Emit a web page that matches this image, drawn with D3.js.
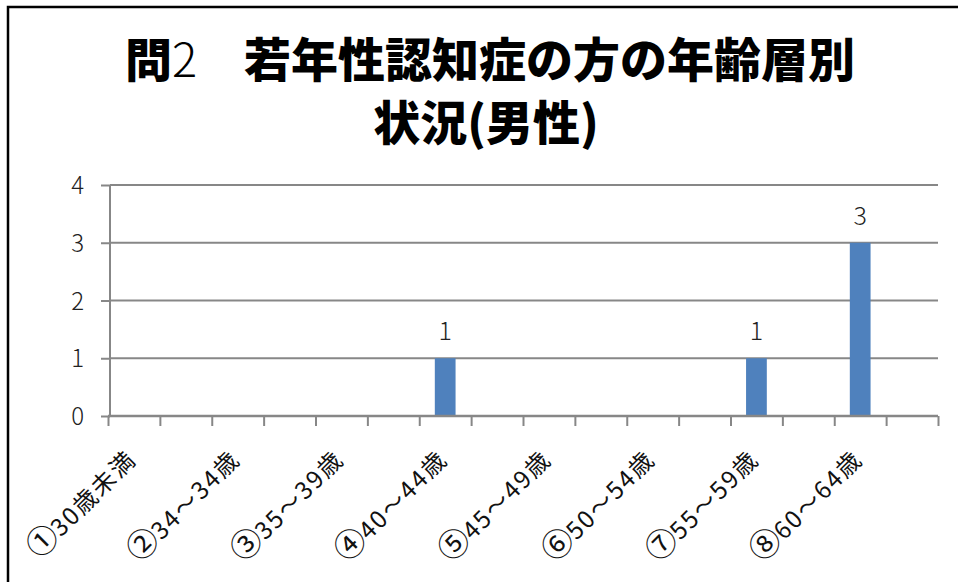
<!DOCTYPE html>
<html lang="ja">
<head>
<meta charset="utf-8">
<script src="https://cdn.jsdelivr.net/npm/d3@7"></script>
<style>
  html, body { margin: 0; padding: 0; background: #fff; }
  svg { display: block; }
</style>
</head>
<body>
<svg id="chart" width="958" height="582"></svg>
<script>
// Age bands (blank entries are the spacer rows between the labelled bands)
const categories = [
  "①30歳未満", "", "②34～34歳", "", "③35～39歳", "", "④40～44歳", "",
  "⑤45～49歳", "", "⑥50～54歳", "", "⑦55～59歳", "", "⑧60～64歳", ""
];
// Number of men in each band (null = no entry)
const values = [null, null, null, null, null, null, 1, null,
                null, null, null, null, 1, null, 3, null];
const yTicks = [0, 1, 2, 3, 4];
const titleLines = [
  [{ t: "問", w: 900 }, { t: "2", w: 300 }, { t: "\u3000若年性認知症の方の年齢層別", w: 900 }],
  [{ t: "状況(男性)", w: 900 }]
];

const svg = d3.select("#chart");
const font = "'Noto Sans CJK JP', 'Noto Sans', sans-serif";

const plot = { left: 110, right: 938, top: 185, bottom: 416 };
const axisStart = 108;

// Outer frame
svg.append("rect")
  .attr("x", 8).attr("y", 7)
  .attr("width", 1000).attr("height", 1000)
  .attr("fill", "none").attr("stroke", "#000").attr("stroke-width", 2.5);

// Title
const title = svg.append("g").attr("font-family", font).attr("fill", "#000");
const titleY = [77, 140];
titleLines.forEach((parts, i) => {
  const t = title.append("text")
    .attr("x", i === 0 ? 490 : 486).attr("y", titleY[i])
    .attr("text-anchor", "middle")
    .attr("font-size", 47);
  parts.forEach(p => t.append("tspan").attr("font-weight", p.w).text(p.t));
});

// Scales
const x = d3.scaleBand()
  .domain(d3.range(categories.length))
  .range([axisStart, plot.right])
  .paddingInner(0.6)
  .paddingOuter(0.3);
const xEdges = d3.scaleLinear()
  .domain([0, categories.length])
  .range([axisStart, plot.right]);
const y = d3.scaleLinear().domain([0, 4]).range([plot.bottom, plot.top]);

const grey = "#878787";

// Horizontal gridlines + y ticks
const yAxis = svg.append("g")
  .attr("transform", `translate(${plot.left},0)`)
  .call(d3.axisLeft(y).tickValues(yTicks).tickSize(9).tickPadding(17).tickFormat(d3.format("d")));
yAxis.select(".domain").remove();
yAxis.selectAll(".tick line").attr("stroke", grey).attr("stroke-width", 2);
yAxis.selectAll(".tick text")
  .attr("font-family", font).attr("font-size", 24).attr("font-weight", 300)
  .attr("fill", "#222").attr("dy", "0.36em");

svg.append("g")
  .selectAll("line")
  .data(yTicks)
  .join("line")
  .attr("x1", plot.left).attr("x2", plot.right)
  .attr("y1", d => y(d)).attr("y2", d => y(d))
  .attr("stroke", grey).attr("stroke-width", 2);

// Vertical axis line
svg.append("line")
  .attr("x1", plot.left).attr("x2", plot.left)
  .attr("y1", plot.top).attr("y2", plot.bottom)
  .attr("stroke", grey).attr("stroke-width", 2);

// Bars
svg.append("g")
  .selectAll("rect")
  .data(values.map((v, i) => ({ i, v })).filter(d => d.v != null))
  .join("rect")
  .attr("x", d => x(d.i))
  .attr("width", x.bandwidth())
  .attr("y", d => y(d.v))
  .attr("height", d => y(0) - y(d.v))
  .attr("fill", "#4f81bd");

// Value labels
svg.append("g")
  .selectAll("text")
  .data(values.map((v, i) => ({ i, v })).filter(d => d.v != null && d.v > 0))
  .join("text")
  .attr("x", d => x(d.i) + x.bandwidth() / 2)
  .attr("y", d => y(d.v) - 18)
  .attr("text-anchor", "middle")
  .attr("font-family", font).attr("font-size", 25).attr("font-weight", 300)
  .attr("fill", "#222")
  .text(d => d.v);

// Category axis with boundary ticks
const xAxis = svg.append("g")
  .attr("transform", `translate(0,${plot.bottom})`)
  .call(d3.axisBottom(xEdges).tickValues(d3.range(categories.length + 1)).tickSize(10).tickFormat(""));
xAxis.select(".domain").attr("stroke", grey).attr("stroke-width", 2.5)
  .attr("d", `M${axisStart},0H${plot.right}`);
xAxis.selectAll(".tick line").attr("stroke", grey).attr("stroke-width", 2);

// Rotated category labels: the circled number is set a little larger
const catLabels = svg.append("g")
  .selectAll("text")
  .data(categories.map((c, i) => ({ c, i })).filter(d => d.c))
  .join("text")
  .attr("transform", d => `translate(${x(d.i) + x.bandwidth() / 2 - 2},455) rotate(-45)`)
  .attr("text-anchor", "end")
  .attr("dy", "0.35em")
  .attr("font-family", font).attr("font-size", 24).attr("font-weight", 400)
  .attr("fill", "#111");
catLabels.append("tspan").attr("font-size", 31).text(d => d.c.slice(0, 1));
catLabels.append("tspan").attr("letter-spacing", 2).text(d => d.c.slice(1));
</script>
</body>
</html>
